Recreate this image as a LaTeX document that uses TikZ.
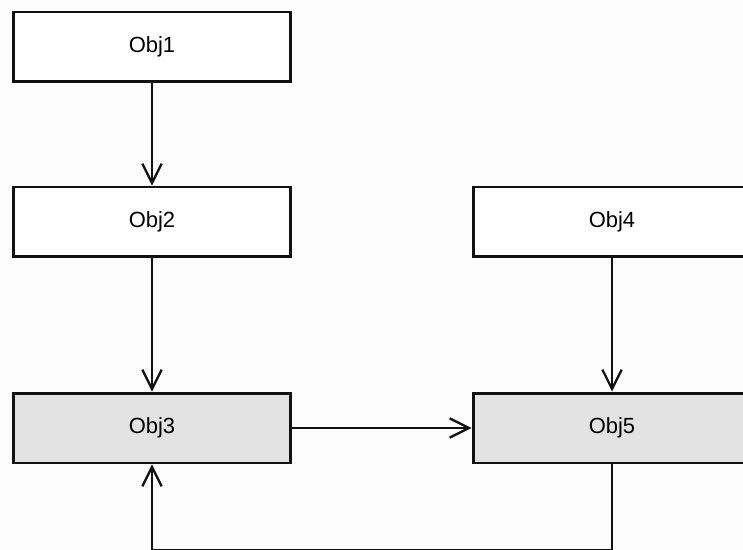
\documentclass[tikz,border=0pt]{standalone}
\usepackage{fontspec}
\setmainfont{Liberation Sans}
\usepackage{xcolor}
\usepackage{tikz}
\usetikzlibrary{arrows.meta,positioning}
\definecolor{oink}{HTML}{111111}
\definecolor{opaper}{HTML}{FCFCFC}
\definecolor{ogrey}{HTML}{E3E3E3}

\begin{document}
\begin{tikzpicture}[x=0.02cm,y=-0.02cm,
    objbox/.style={draw=oink,line width=1.7pt,fill=white,minimum width=5.56cm,
      minimum height=1.4cm,inner sep=0pt,font=\fontsize{12.5}{14}\selectfont},
    shaded/.style={objbox,fill=ogrey},
    link/.style={draw=oink,line width=1.3pt,-{Straight Barb[length=11pt,width=11pt,line width=1.3pt]}}]
  \useasboundingbox (0,0) rectangle (743,550);
  \fill[opaper] (0,0) rectangle (743,550);
  \node[objbox] (obj1) at (152,47)  {Obj1};
  \node[objbox] (obj2) at (152,222) {Obj2};
  \node[shaded] (obj3) at (152,428) {Obj3};
  \node[objbox] (obj4) at (612,222) {Obj4};
  \node[shaded] (obj5) at (612,428) {Obj5};
  \coordinate (loopR) at (612,550);
  \coordinate (loopL) at (152,550);
  \draw[link] (obj1) -- (obj2);
  \draw[link] (obj2) -- (obj3);
  \draw[link] (obj4) -- (obj5);
  \draw[link,line width=1.6pt] (obj3) -- (obj5);
  \draw[link] (obj5.south) -- (loopR) -- (loopL) -- (obj3.south);
\end{tikzpicture}
\end{document}
